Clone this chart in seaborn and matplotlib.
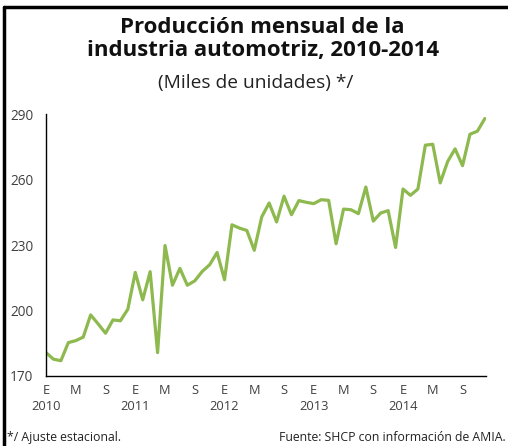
import pandas as pd
import matplotlib.pyplot as plt
import seaborn as sns
from matplotlib.lines import Line2D

# Data: monthly production, thousands of units (seasonally adjusted), Jan 2010 - Dec 2014
produccion = [
    180.7, 177.7, 177.0, 185.3, 186.2, 187.8, 198.0, 193.9, 189.6, 195.7, 195.3, 200.6,  # 2010
    217.5, 204.9, 217.8, 180.7, 229.8, 211.6, 219.3, 211.6, 213.6, 217.9, 221.0, 226.6,  # 2011
    214.1, 239.3, 237.8, 236.7, 227.6, 242.9, 249.3, 240.6, 252.4, 243.9, 250.4, 249.6,  # 2012
    249.0, 250.8, 250.5, 230.6, 246.5, 246.2, 244.4, 256.6, 241.0, 244.7, 245.8, 228.9,  # 2013
    255.7, 252.8, 255.7, 275.8, 276.2, 258.5, 268.3, 274.1, 266.4, 280.8, 282.2, 288.0,  # 2014
]
years = [2010, 2011, 2012, 2013, 2014]
month_letters = ["E", "M", "S"]
yticks = [170, 200, 230, 260, 290]

df = pd.DataFrame({"mes": range(len(produccion)), "valor": produccion})

sns.set_theme(style="white")
plt.rcParams['font.family'] = ['Open Sans', 'DejaVu Sans']

fig = plt.figure(figsize=(5.08, 4.46), dpi=100)
ax = fig.add_axes([0.0906, 0.157, 0.866, 0.587])

sns.lineplot(data=df, x="mes", y="valor", color="#8db94f", linewidth=2.3, ax=ax)

ax.set_ylim(170, 290)
ax.set_xlim(0, len(produccion) - 0.85)
ax.set_yticks(yticks)
ax.set_yticklabels([str(v) for v in yticks], fontsize=9.8, color="#404040")

# x ticks every 4 months, year under each January
xt = list(range(0, len(produccion), 4))
xl = []
for i in xt:
    letter = month_letters[(i % 12) // 4]
    if i % 12 == 0:
        xl.append(f"{letter}\n{years[i // 12]}")
    else:
        xl.append(letter)
ax.set_xticks(xt)
ax.set_xticklabels(xl, fontsize=9.3, color="#404040", linespacing=1.3)
ax.tick_params(axis="x", direction="inout", length=8, width=0.8, color="black", pad=2)
ax.tick_params(axis="y", direction="out", length=4, width=0.8, color="black", pad=5)

for s in ["top", "right"]:
    ax.spines[s].set_visible(False)
for s in ["left", "bottom"]:
    ax.spines[s].set_color("black")
    ax.spines[s].set_linewidth(1.0)
ax.set_xlabel("")
ax.set_ylabel("")

# Titles
fig.text(0.517, 0.962, "Producción mensual de la\nindustria automotriz, 2010-2014",
         ha="center", va="top", fontsize=16, fontweight="bold", color="#111111", linespacing=1.1)
fig.text(0.503, 0.814, "(Miles de unidades) */", ha="center", va="center",
         fontsize=13.8, color="#222222")

# Footnotes
fig.text(0.014, 0.02, "*/ Ajuste estacional.", ha="left", va="center", fontsize=8.8, color="#222222")
fig.text(0.995, 0.02, "Fuente: SHCP con información de AMIA.", ha="right", va="center",
         fontsize=8.8, color="#222222")

# Frame lines (top and left)
fig.add_artist(Line2D([0.008, 1.0], [0.985, 0.985], color="black", linewidth=2.5, transform=fig.transFigure))
fig.add_artist(Line2D([0.008, 0.008], [0.0, 0.985], color="black", linewidth=2.5, transform=fig.transFigure))

fig.savefig("out.png", dpi=100)
